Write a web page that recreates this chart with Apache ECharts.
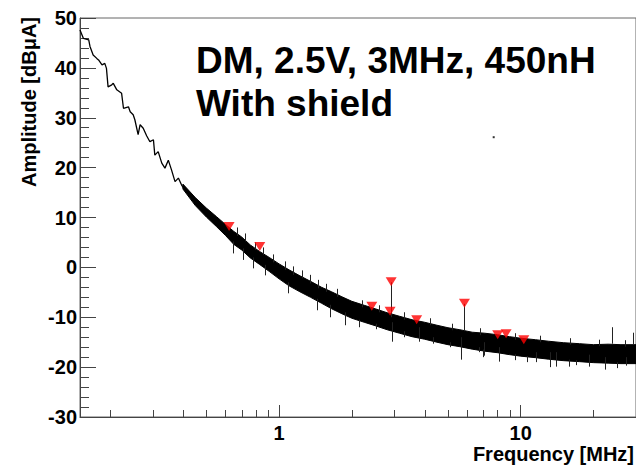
<!DOCTYPE html>
<html><head><meta charset="utf-8">
<script src="https://cdn.jsdelivr.net/npm/echarts@6/dist/echarts.min.js"></script>
<style>html,body{margin:0;padding:0;background:#fff}#c{width:636px;height:465px}</style>
</head><body><div id="c"></div>
<script>
// Low-frequency part of the spectrum (thin trace)
const traceFreq = [0.150,0.155,0.163,0.165,0.170,0.176,0.179,0.185,0.190,0.193,0.196,0.203,0.206,0.213,0.223,0.227,0.238,0.242,0.249,0.253,0.261,0.266,0.274,0.283,0.292,0.302,0.306,0.316,0.327,0.337,0.348,0.359,0.371,0.383,0.395,0.408,0.421];
const traceAmp  = [47.6,45.9,45.6,44.3,42.6,41.9,41.6,40.6,40.9,39.9,36.2,36.6,36.9,35.6,34.9,31.9,32.2,31.2,30.6,29.6,26.6,28.6,27.9,26.4,25.2,25.6,22.5,23.2,20.9,19.9,21.5,19.5,17.2,17.9,16.5,15.5,15.2];
// Noise band envelope of the spectrum (upper and lower edge)
const bandFreq = [0.40,0.45,0.50,0.55,0.60,0.65,0.70,0.76,0.83,0.91,1.00,1.10,1.22,1.35,1.50,1.65,1.82,2.00,2.25,2.50,2.80,3.15,3.55,4.00,4.50,5.00,5.60,6.30,7.10,8.00,9.00,10.0,11.5,13.0,15.0,17.5,20.0,23.0,26.0,30.0];
const bandHigh = [16.7,14.0,11.9,10.2,8.6,7.2,6.1,4.5,3.2,2.0,0.7,-0.5,-1.7,-2.8,-4.0,-4.9,-5.9,-6.8,-7.6,-8.3,-9.1,-9.8,-10.5,-11.0,-11.6,-12.1,-12.5,-13.0,-13.2,-13.5,-13.9,-14.2,-14.5,-14.8,-15.1,-15.3,-15.5,-15.4,-15.5,-15.5];
const bandLow  = [15.7,12.4,10.1,8.2,6.4,4.6,3.5,1.9,0.6,-0.8,-2.3,-3.7,-4.9,-6.0,-7.2,-8.3,-9.3,-10.2,-11.0,-11.7,-12.5,-13.2,-13.9,-14.4,-15.0,-15.5,-15.9,-16.4,-16.8,-17.1,-17.5,-17.8,-18.1,-18.4,-18.7,-18.9,-19.1,-19.2,-19.3,-19.3];
// Narrow vertical lines: tones, then hairs above/below the band
const spikeFreq   = [2.91,5.85,23.8,29.2,
  0.667,0.721,0.794,0.859,0.944,1.056,1.14,1.24,1.34,1.45,1.57,1.73,
  0.645,0.71,0.781,0.873,1.09,1.43,1.62,1.87,
  2.2,2.6,3.3,4.2,5.2,6.8,9.5,12.0,16.0,21.0,27.0,
  2.93,3.81,5.67,7.08,8.1,11.6,13.2,14.0,19.2,22.4,27.2,
  2.15,2.53,3.30,4.33,5.08,6.74,6.96,9.43,10.6,15.8,17.0,25.0];
const spikeTop    = [-3.0,-7.3,-12.0,-13.1,
  8.0,6.8,5.0,4.0,2.6,1.2,0.2,-0.6,-1.5,-2.5,-3.3,-4.3,
  5.2,3.8,2.0,0.5,-3.0,-6.3,-7.5,-9.0,
  -6.6,-7.6,-9.0,-10.2,-11.3,-12.2,-13.2,-13.7,-14.2,-14.5,-14.6,
  -11.0,-12.0,-14.0,-15.0,-16.0,-17.0,-17.0,-17.0,-17.5,-18.0,-18.0,
  -10.5,-11.3,-12.8,-14.0,-15.0,-16.0,-16.5,-17.4,-17.8,-18.5,-18.6,-19.0];
const spikeBottom = [-10.0,-12.8,-15.3,-15.5,
  6.3,5.2,3.5,2.5,1.0,-0.5,-1.5,-2.2,-3.2,-4.2,-4.9,-5.9,
  2.8,1.5,-0.2,-1.6,-5.2,-8.6,-10.0,-11.6,
  -8.0,-9.0,-10.5,-11.6,-12.6,-13.6,-14.5,-15.0,-15.5,-15.8,-15.9,
  -14.9,-14.9,-18.5,-17.7,-18.9,-19.0,-20.0,-19.9,-19.9,-20.5,-19.7,
  -12.0,-12.4,-14.0,-15.3,-16.0,-17.0,-18.0,-18.6,-19.0,-19.9,-19.6,-20.2];
// Peak markers
const peakFreq = [0.621,0.832,2.42,2.91,2.88,3.71,5.85,8.03,8.70,10.3];
const peakAmp  = [8.2,4.2,-7.8,-2.9,-8.8,-10.5,-7.2,-13.5,-13.3,-14.5];
// Stray point
const strayFreq = [7.73];
const strayAmp  = [26.1];
// Axes
const xMin = 0.15, xMax = 30;
const yMin = -30, yMax = 50, yStep = 10;
const xMinorTicks = [0.2,0.3,0.4,0.5,0.6,0.7,0.8,0.9,2,3,4,5,6,7,8,9,20];
const titleLines = ['DM, 2.5V, 3MHz, 450nH', 'With shield'];
const xTitle = 'Frequency [MHz]';
const yTitle = 'Amplitude [dBμA]';

const FONT = '"Liberation Sans", Arial, Helvetica, sans-serif';
const AX = '#444';
const chart = echarts.init(document.getElementById('c'), null, {renderer: 'svg'});
const crisp = v => Math.round(v) + 0.5;

const option = {
  animation: false,
  backgroundColor: '#fff',
  grid: {left: 80, right: 0, top: 18, bottom: 48, show: true, borderColor: '#666', borderWidth: 1, containLabel: false, outerBoundsMode: 'none'},
  xAxis: {
    type: 'log', logBase: 10, min: xMin, max: xMax,
    axisLine: {onZero: false, lineStyle: {color: AX, width: 1}},
    axisTick: {show: true, inside: true, length: 12, lineStyle: {color: AX}},
    splitLine: {show: false},
    axisLabel: {showMinLabel: false, showMaxLabel: false, color: '#000', fontSize: 20, fontWeight: 'bold', fontFamily: FONT, margin: 6, formatter: v => String(v)}
  },
  yAxis: {
    type: 'value', min: yMin, max: yMax, interval: yStep,
    axisLine: {show: true, onZero: false, lineStyle: {color: AX, width: 1}},
    axisTick: {show: true, inside: true, length: 16, lineStyle: {color: AX}},
    minorTick: {show: true, splitNumber: 5, length: 9, lineStyle: {color: AX}},
    splitLine: {show: false},
    axisLabel: {color: '#000', fontSize: 20, fontWeight: 'bold', fontFamily: FONT, margin: 3}
  },
  graphic: [
    {type: 'text', x: 196, y: 60, style: {text: titleLines[0], fontSize: 37, fontWeight: 'bold', fontFamily: FONT, fill: '#000', align: 'left', verticalAlign: 'middle'}},
    {type: 'text', x: 196, y: 103.5, style: {text: titleLines[1], fontSize: 37, fontWeight: 'bold', fontFamily: FONT, fill: '#000', align: 'left', verticalAlign: 'middle'}},
    {type: 'text', x: 634, y: 454, style: {text: xTitle, fontSize: 20, fontWeight: 'bold', fontFamily: FONT, fill: '#000', align: 'right', verticalAlign: 'middle'}},
    {type: 'text', x: 29, y: 17, rotation: Math.PI / 2, style: {text: yTitle, fontSize: 20, fontWeight: 'bold', fontFamily: FONT, fill: '#000', align: 'right', verticalAlign: 'middle'}}
  ],
  series: [
    {
      type: 'custom', name: 'xminor', silent: true, z: 1,
      data: xMinorTicks.map(v => [v, yMin]),
      renderItem: (p, api) => {
        const c = api.coord([api.value(0), yMin]);
        const x = crisp(c[0]);
        return {type: 'line', shape: {x1: x, y1: c[1], x2: x, y2: c[1] - 7}, style: {stroke: AX, lineWidth: 1}};
      }
    },
    {
      type: 'line', name: 'trace', data: traceFreq.map((f, i) => [f, traceAmp[i]]),
      showSymbol: false, symbol: 'none', lineStyle: {color: '#000', width: 1.3}, z: 3, silent: true
    },
    {
      type: 'custom', name: 'band', clip: true, silent: true, z: 3,
      data: [[bandFreq[0], bandHigh[0]]],
      renderItem: (p, api) => {
        const pts = [];
        for (let i = 0; i < bandFreq.length; i++) pts.push(api.coord([bandFreq[i], bandHigh[i]]));
        for (let i = bandFreq.length - 1; i >= 0; i--) pts.push(api.coord([bandFreq[i], bandLow[i]]));
        return {type: 'polygon', shape: {points: pts}, style: {fill: '#000', stroke: '#000', lineWidth: 1}};
      }
    },
    {
      type: 'custom', name: 'spikes', clip: true, silent: true, z: 4,
      data: spikeFreq.map((f, i) => [f, spikeTop[i], spikeBottom[i]]),
      renderItem: (p, api) => {
        const a = api.coord([api.value(0), api.value(1)]);
        const b = api.coord([api.value(0), api.value(2)]);
        const x = crisp(a[0]);
        return {type: 'line', shape: {x1: x, y1: a[1], x2: x, y2: b[1]}, style: {stroke: '#222', lineWidth: 1}};
      }
    },
    {
      type: 'scatter', name: 'peaks', data: peakFreq.map((f, i) => [f, peakAmp[i]]),
      symbol: 'triangle', symbolRotate: 180, symbolSize: [11, 9],
      itemStyle: {color: '#ff0000'}, z: 6, silent: true
    },
    {
      type: 'scatter', name: 'stray', data: strayFreq.map((f, i) => [f, strayAmp[i]]),
      symbol: 'rect', symbolSize: 2, itemStyle: {color: '#000'}, z: 6, silent: true
    }
  ]
};
chart.setOption(option);
</script>
</body></html>
